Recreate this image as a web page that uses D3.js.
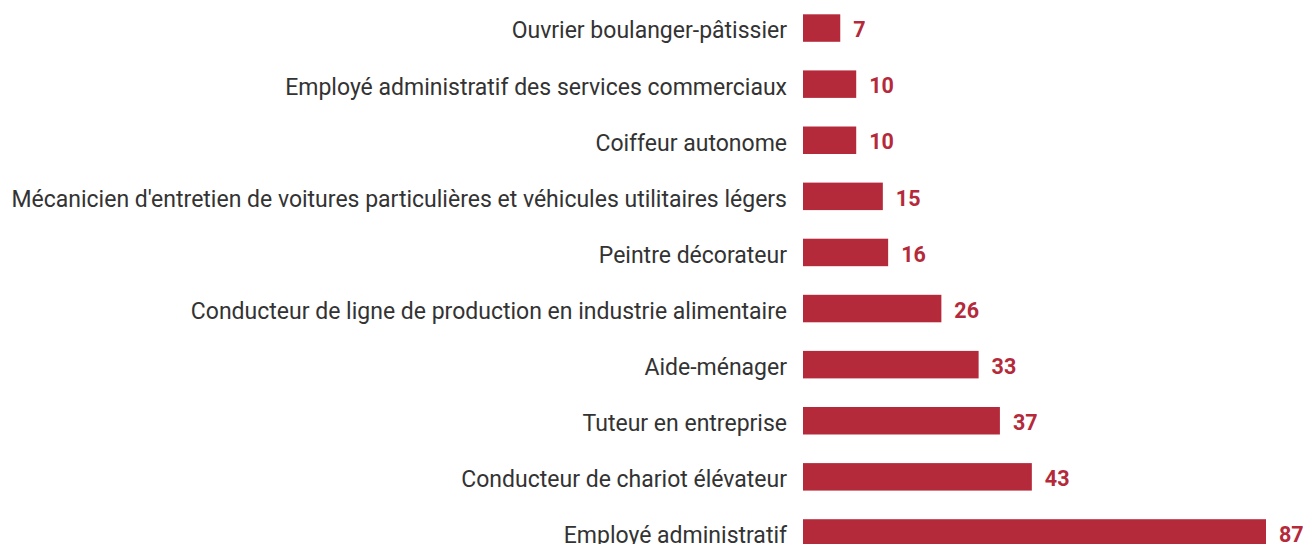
<!DOCTYPE html>
<html>
<head>
<meta charset="utf-8">
<script src="https://cdn.jsdelivr.net/npm/d3@7"></script>
<style>
  body { margin: 0; background: #fff; }
  #graph { width: 1304px; height: 544px; overflow: hidden; }
  .cat-label { font-family: Roboto, sans-serif; font-size: 23px; fill: #333; }
  .val-label { font-family: Roboto, sans-serif; font-size: 21.5px; font-weight: bold; fill: #b52a3a; }
</style>
</head>
<body>
<div id="graph"></div>
<script>
// Job titles, top to bottom
const jobs = [
  "Ouvrier boulanger-pâtissier",
  "Employé administratif des services commerciaux",
  "Coiffeur autonome",
  "Mécanicien d'entretien de voitures particulières et véhicules utilitaires légers",
  "Peintre décorateur",
  "Conducteur de ligne de production en industrie alimentaire",
  "Aide-ménager",
  "Tuteur en entreprise",
  "Conducteur de chariot élévateur",
  "Employé administratif"
]
// Values shown next to each bar
const counts = [7, 10, 10, 15, 16, 26, 33, 37, 43, 87]

const width = 1304
const height = 544
const barColor = "#b52a3a"

const svg = d3.select("#graph")
  .append("svg")
  .attr("width", width)
  .attr("height", height)

// x scale: bars start right of the labels
const xScale = d3.scaleLinear()
  .domain([0, d3.max(counts)])
  .range([803, 1266])

// y scale: one band per job
const yScale = d3.scaleBand()
  .domain(jobs)
  .range([0, 561])
  .paddingInner(0.51)
  .paddingOuter(0.255)

const rows = jobs.map((j, i) => ({ job: j, value: counts[i] }))

// bars
svg.selectAll("rect")
  .data(rows)
  .enter()
  .append("rect")
  .attr("x", xScale(0))
  .attr("y", d => yScale(d.job))
  .attr("width", d => xScale(d.value) - xScale(0))
  .attr("height", yScale.bandwidth())
  .attr("fill", barColor)

// category labels on the left
svg.selectAll(".cat-label")
  .data(rows)
  .enter()
  .append("text")
  .attr("class", "cat-label")
  .attr("text-anchor", "end")
  .attr("x", xScale(0) - 16)
  .attr("y", d => yScale(d.job) + yScale.bandwidth() / 2)
  .attr("dy", "0.45em")
  .text(d => d.job)

// value labels after each bar
svg.selectAll(".val-label")
  .data(rows)
  .enter()
  .append("text")
  .attr("class", "val-label")
  .attr("x", d => xScale(d.value) + 13)
  .attr("y", d => yScale(d.job) + yScale.bandwidth() / 2)
  .attr("dy", "0.43em")
  .text(d => d.value)
</script>
</body>
</html>
